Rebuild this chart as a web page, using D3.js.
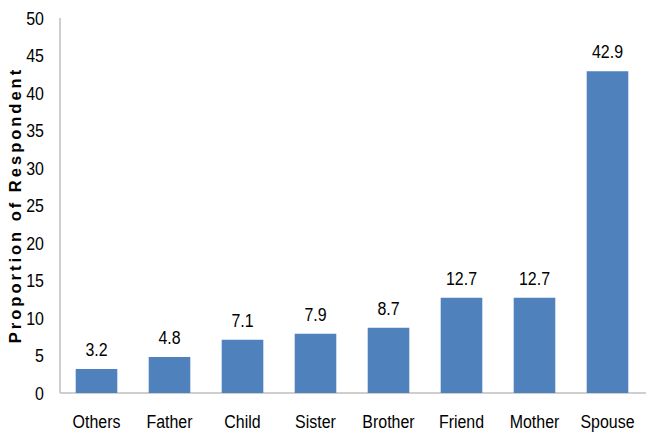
<!DOCTYPE html>
<html><head><meta charset="utf-8">
<script src="https://cdn.jsdelivr.net/npm/d3@7"></script>
<style>body{margin:0;background:#fff}svg{display:block}
text{font-family:"Liberation Sans",Arial,sans-serif}</style>
</head><body><svg id="c" width="650" height="439"></svg>
<script>
const categories = ["Others","Father","Child","Sister","Brother","Friend","Mother","Spouse"];
const values = [3.2,4.8,7.1,7.9,8.7,12.7,12.7,42.9];
const yTicks = [0,5,10,15,20,25,30,35,40,45,50];
const yTitle = "Proportion of Respondent";

const svg = d3.select("#c");
const x = d3.scaleBand().domain(categories).range([60, 644]).paddingInner(0.43).paddingOuter(0.215);
const y = d3.scaleLinear().domain([0,50]).range([393, 18]);
const sx = 0.84;

// axis lines
svg.append("line").attr("x1",60).attr("x2",60).attr("y1",18).attr("y2",393).attr("stroke","#bfbfbf").attr("stroke-width",1.5);
svg.append("line").attr("x1",60).attr("x2",646).attr("y1",393).attr("y2",393).attr("stroke","#bfbfbf").attr("stroke-width",1.5);

// y tick labels
svg.append("g").selectAll("text").data(yTicks).join("text")
  .attr("transform",d=>`translate(44,${y(d)+6.5}) scale(${sx},1)`)
  .attr("text-anchor","end").attr("font-size",19).attr("fill","#000").text(d=>d);

// bars
svg.append("g").selectAll("rect").data(values).join("rect")
  .attr("x",(d,i)=>x(categories[i])).attr("width",x.bandwidth())
  .attr("y",d=>y(d)).attr("height",d=>y(0)-y(d)).attr("fill","#4f81bd");

// value labels
svg.append("g").selectAll("text").data(values).join("text")
  .attr("transform",(d,i)=>`translate(${x(categories[i])+x.bandwidth()/2},${y(d)-13}) scale(${sx},1)`)
  .attr("text-anchor","middle").attr("font-size",19).attr("fill","#000").text(d=>d.toFixed(1));

// category labels
svg.append("g").selectAll("text").data(categories).join("text")
  .attr("transform",d=>`translate(${x(d)+x.bandwidth()/2},428) scale(${sx},1)`)
  .attr("text-anchor","middle").attr("font-size",19).attr("fill","#000").text(d=>d);

// y title
svg.append("text").attr("transform","translate(21,205) rotate(-90)")
  .attr("text-anchor","middle").attr("font-size",16.5).attr("font-weight","bold")
  .attr("letter-spacing","3px")
  .attr("fill","#000").text(yTitle);
</script></body></html>
